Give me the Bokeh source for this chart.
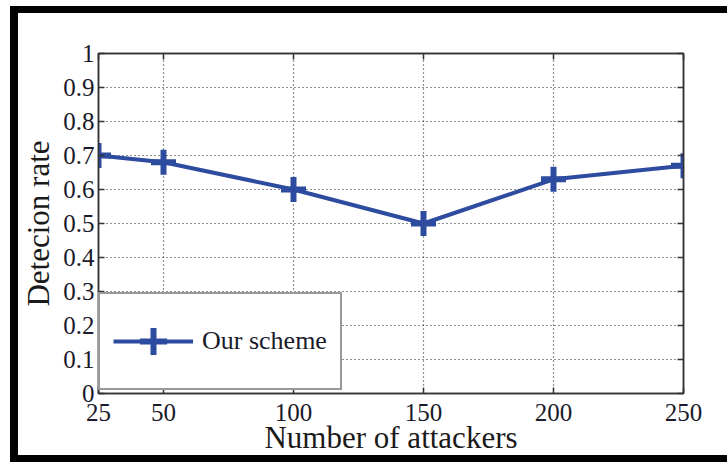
from bokeh.plotting import figure
from bokeh.models import FixedTicker, LinearAxis, Range1d, Legend, LegendItem
from bokeh.embed import file_html
from bokeh.resources import INLINE

attackers = [25, 50, 100, 150, 200, 250]
detection = [0.70, 0.68, 0.60, 0.50, 0.63, 0.67]
x_ticks = [25, 50, 100, 150, 200, 250]
y_ticks = [0, 0.1, 0.2, 0.3, 0.4, 0.5, 0.6, 0.7, 0.8, 0.9, 1]
y_labels = ["0", "0.1", "0.2", "0.3", "0.4", "0.5", "0.6", "0.7", "0.8", "0.9", "1"]

FONT = "Liberation Serif"
BLUE = "#2E4C9F"
AX = "#333333"

p = figure(width=717, height=456, output_backend="svg", toolbar_location=None,
           x_range=Range1d(25, 250), y_range=Range1d(0, 1),
           min_border_left=80, min_border_right=52, min_border_top=40, min_border_bottom=76,
           x_axis_label="Number of attackers", y_axis_label="Detecion rate")
p.background_fill_color = "white"
p.border_fill_color = "white"
p.outline_line_color = AX
p.outline_line_width = 1.5
# black page frame seen around the reference picture
p.styles = {"margin-top": "6px", "margin-left": "10px",
            "border-top": "7px solid black", "border-left": "8px solid black",
            "border-bottom": "7px solid black"}

for ax in p.xaxis:
    ax.ticker = FixedTicker(ticks=x_ticks)
for ax in p.yaxis:
    ax.ticker = FixedTicker(ticks=y_ticks)
    ax.major_label_overrides = {t: s for t, s in zip(y_ticks, y_labels)}

for ax in list(p.xaxis) + list(p.yaxis):
    ax.major_tick_in = 6
    ax.major_tick_out = 0
    ax.minor_tick_line_color = None
    ax.axis_line_color = AX
    ax.axis_line_width = 1.5
    ax.major_tick_line_color = AX
    ax.major_tick_line_width = 1.5
    ax.major_label_text_font = FONT
    ax.major_label_text_font_size = "25px"
    ax.major_label_text_color = "#1a1a2a"
    ax.axis_label_text_font = FONT
    ax.axis_label_text_font_size = "31px"
    ax.axis_label_text_font_style = "normal"
    ax.axis_label_text_color = "#1a1a1a"

p.xaxis.major_label_standoff = 10
p.xaxis.axis_label_standoff = -4
p.yaxis.major_label_standoff = 4
p.yaxis.axis_label_standoff = 4

top_ax = LinearAxis(ticker=FixedTicker(ticks=x_ticks), major_label_text_color=None,
                    major_tick_in=6, major_tick_out=0, minor_tick_line_color=None,
                    axis_line_color=AX, axis_line_width=1.5, major_tick_line_color=AX,
                    major_tick_line_width=1.5, major_label_standoff=0)
right_ax = LinearAxis(ticker=FixedTicker(ticks=y_ticks), major_label_text_color=None,
                      major_tick_in=6, major_tick_out=0, minor_tick_line_color=None,
                      axis_line_color=AX, axis_line_width=1.5, major_tick_line_color=AX,
                      major_tick_line_width=1.5, major_label_standoff=0)
p.add_layout(top_ax, "above")
p.add_layout(right_ax, "right")

for g in [p.xgrid, p.ygrid]:
    g.grid_line_color = "#222222"
    g.grid_line_dash = "1 3"
    g.grid_line_width = 1.2
    g.grid_line_alpha = 1.0
p.xgrid.ticker = FixedTicker(ticks=x_ticks)
p.ygrid.ticker = FixedTicker(ticks=y_ticks)

ln = p.line(attackers, detection, line_color=BLUE, line_width=4)
mk = p.scatter(attackers, detection, marker="cross", size=25, line_color=BLUE, line_width=6)

legend = Legend(items=[LegendItem(label="Our scheme", renderers=[ln, mk])],
                location=(0, 3), margin=0, padding=13, spacing=0,
                glyph_width=80, glyph_height=68, label_height=68, label_standoff=9,
                label_text_font=FONT, label_text_font_size="26px", label_text_color="#1a1a2a",
                border_line_color=AX, border_line_width=2, background_fill_alpha=1.0)
p.add_layout(legend, "center")

open("out.html", "w").write(file_html(p, INLINE))
